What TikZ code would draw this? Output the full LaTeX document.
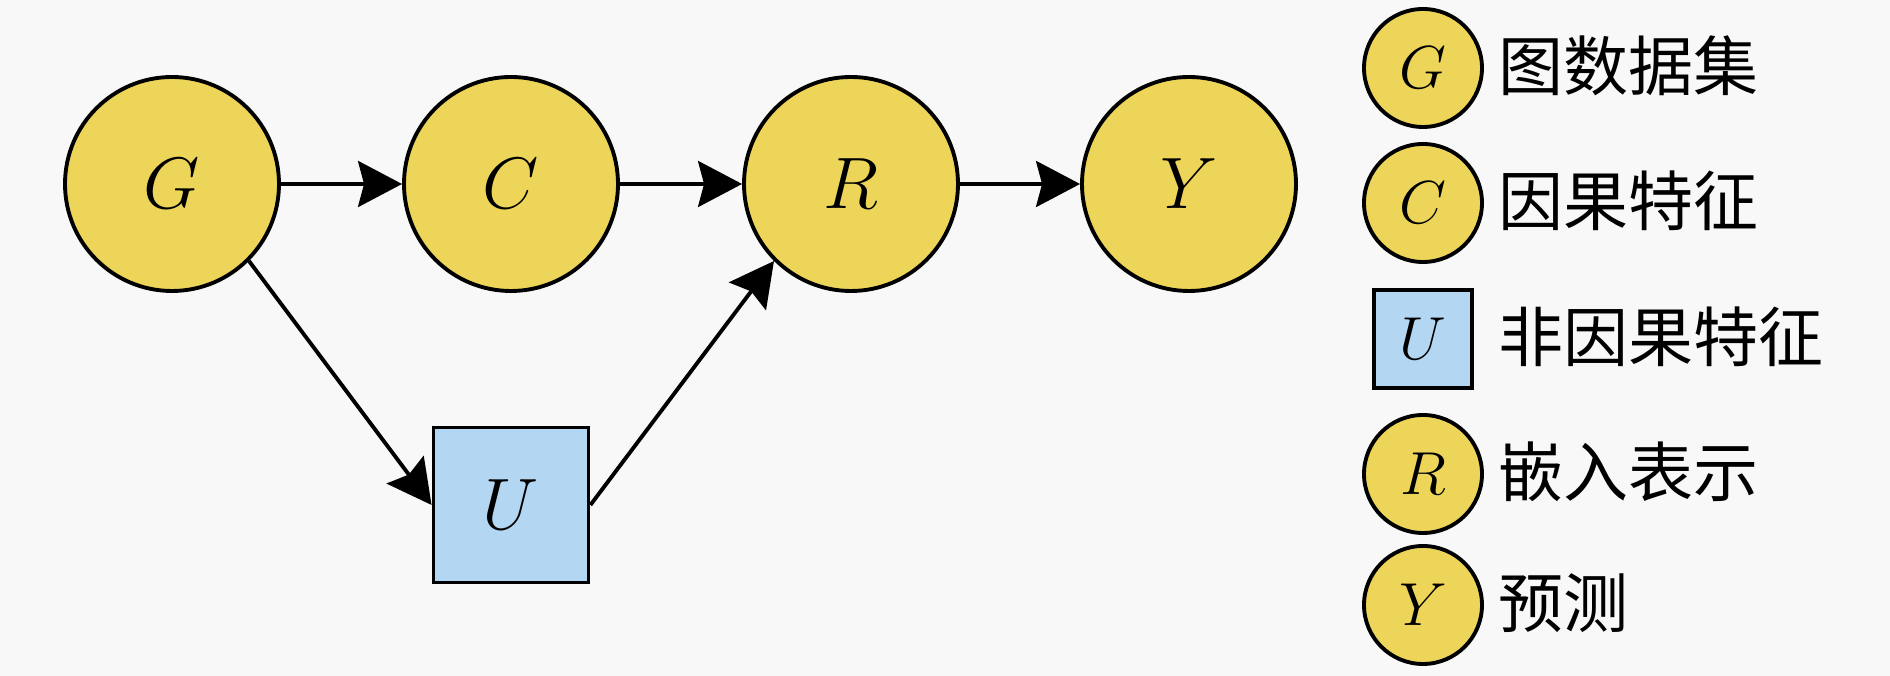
\documentclass[tikz,border=0pt]{standalone}
\usepackage{fontspec}
\newfontfamily\cjk{Noto Sans CJK SC}
\usepackage{tikz}
\usetikzlibrary{arrows.meta}
\definecolor{nodeyellow}{RGB}{237,213,90}
\definecolor{nodeblue}{RGB}{179,214,242}
\definecolor{bggray}{RGB}{248,248,248}
\tikzset{
  var/.style = {circle, draw, line width=1.1pt, fill=nodeyellow, inner sep=0pt,
    minimum size=#1, font=\fontsize{20}{24}\selectfont},
  var/.default = {2.14cm},
  hidden/.style = {rectangle, draw, line width=1.1pt, fill=nodeblue, inner sep=0pt,
    minimum size=#1, font=\fontsize{20}{24}\selectfont},
  hidden/.default = {1.55cm},
  edge/.style = {-{Stealth[length=4.4mm,width=4.6mm,inset=0.6mm]}, line width=1.1pt},
  key/.style = {anchor=west, inner sep=0pt, font=\cjk\fontsize{18.5}{22}\selectfont},
  small/.style = {font=\fontsize{18}{22}\selectfont}
}

\begin{document}
\begin{tikzpicture}

  \fill[bggray] (0,0) rectangle (18.9,6.76);
  \useasboundingbox (0,0) rectangle (18.9,6.76);

  % graph
  \node[var] (G) at (1.72,4.92) {$G$};
  \node[var] (C) at (5.11,4.92) {$C$};
  \node[var] (R) at (8.51,4.92) {$R$};
  \node[var] (Y) at (11.89,4.92) {$Y$};
  \node[hidden] (U) at (5.11,1.71) {$U$};

  \draw[edge] (G) -- (C);
  \draw[edge] (C) -- (R);
  \draw[edge] (R) -- (Y);
  \draw[edge] (G.south east) -- (U.west);
  \draw[edge] (U.east) -- (R.south west);

  % legend
  \node[var=1.18cm, small] (lG) at (14.23,6.08) {$G$};
  \node[var=1.18cm, small] (lC) at (14.23,4.73) {$C$};
  \node[hidden=0.98cm, small] (lU) at (14.23,3.37) {$U$};
  \node[var=1.18cm, small] (lR) at (14.23,2.02) {$R$};
  \node[var=1.18cm, small] (lY) at (14.23,0.71) {$Y$};

  \node[key] (tG) at (14.98,6.10) {图数据集};
  \node[key] (tC) at (14.98,4.75) {因果特征};
  \node[key] (tU) at (14.98,3.39) {非因果特征};
  \node[key] (tR) at (14.98,2.04) {嵌入表示};
  \node[key] (tY) at (14.98,0.73) {预测};
\end{tikzpicture}
\end{document}
